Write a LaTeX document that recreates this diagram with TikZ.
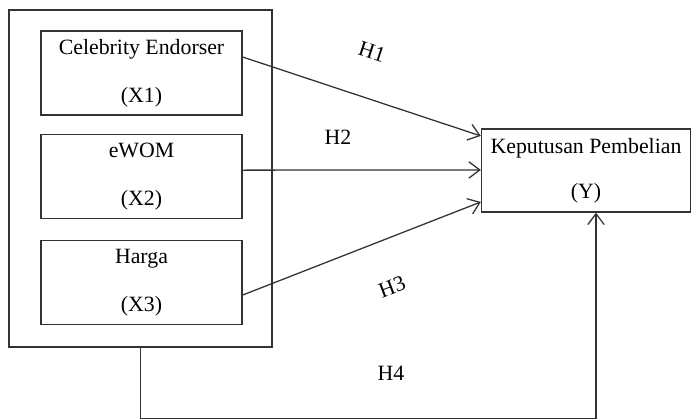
\documentclass[tikz,border=0pt]{standalone}
\usepackage{fontspec}
\setmainfont{Liberation Serif}
\usetikzlibrary{arrows.meta}

\begin{document}
\begin{tikzpicture}
	  [x=0.55pt, y=-0.55pt, font=\fontsize{12}{14}\selectfont,
	  %
	  block/.style={rectangle, draw=black!80, line width=0.7pt, align=center, minimum width=110.55pt, minimum height=46.2pt},
	  %
	  outerbox/.style={rectangle, draw=black!80, line width=0.7pt, minimum width=144.65pt, minimum height=185.35pt},
	  %
	  customline/.style={draw=black!80, line width=0.7pt, arrows={-Straight Barb[length=6pt, width=9pt]}},
	  %
	  hyp/.style={inner sep=0pt}]

	    \useasboundingbox (0,0) rectangle (692,419);

	    \node [outerbox] (grp) at (140.5,178.5) {};
	    \node [block] (x1) at (141.5,73) {Celebrity Endorser\\[12.4pt](X1)};
	    \node [block] (x2) at (141.5,176.5) {eWOM\\[12.4pt](X2)};
	    \node [block] (x3) at (141.5,282.5) {Harga\\[12.4pt](X3)};
	    \node [block, minimum width=115pt, minimum height=45.65pt] (y) at (586,170.5) {Keputusan Pembelian\\[10.75pt](Y)};

	    \node [hyp, rotate=-18] (h1) at (372,52) {H1};
	    \node [hyp] (h2) at (338,137) {H2};
	    \node [hyp, rotate=21] (h3) at (392,287) {H3};
	    \node [hyp] (h4) at (391,373) {H4};

	    \draw [customline] ([yshift=8.8pt]x1.east) -- ([yshift=19pt]y.west);
	    \draw [customline] ([yshift=3.5pt]x2.east) -- ([yshift=0.3pt]y.west);
	    \draw [customline] ([yshift=-6.9pt]x3.east) -- ([yshift=-17.3pt]y.west);
	    \draw [customline] (grp.south) -- ++(0,71) -| ([xshift=5.5pt]y.south);
	  \end{tikzpicture}
\end{document}
